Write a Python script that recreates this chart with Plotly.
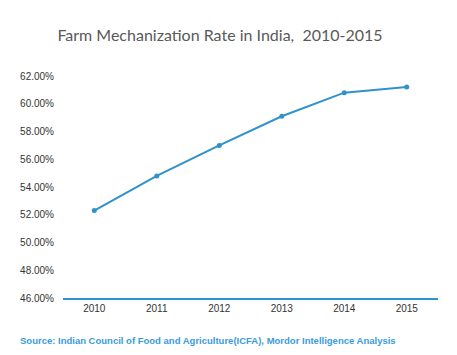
import plotly.graph_objects as go

years = ["2010", "2011", "2012", "2013", "2014", "2015"]
rates = [52.3, 54.8, 57.0, 59.1, 60.8, 61.2]
y_ticks = [46, 48, 50, 52, 54, 56, 58, 60, 62]
y_tick_labels = [f"{v:.2f}%" for v in y_ticks]

title_text = "Farm Mechanization Rate in India,\u00a0 2010-2015"
source_text = "Source: Indian Council of Food and Agriculture(ICFA), Mordor Intelligence Analysis"

line_color = "#3092CB"

# page body has an 8px margin, so figure coordinates are offset by 8px
OFF = 8
W, H = 457 - OFF, 355 - OFF
L, R, T, B = 57 - OFF, 19, 76 - OFF, 57
plot_w = W - L - R
plot_h = H - T - B


def px(x):
    return (x - OFF - L) / plot_w


fig = go.Figure()
fig.add_trace(go.Scatter(
    x=years, y=rates, mode="lines+markers",
    line=dict(color=line_color, width=2),
    marker=dict(color=line_color, size=5),
    hoverinfo="x+y",
))

fig.update_layout(
    width=W, height=H,
    margin=dict(l=L, r=R, t=T, b=B),
    paper_bgcolor="white", plot_bgcolor="white",
    showlegend=False,
    title=dict(text=title_text, x=(220 - OFF) / W, xanchor="center",
               y=1 - (35 - OFF) / H, yanchor="middle",
               font=dict(family="Lato", size=16, color="#595959")),
    xaxis=dict(type="category", range=[-0.5, 5.5], showgrid=False, zeroline=False,
               showline=True, linecolor=line_color, linewidth=1.5, ticks="",
               tickfont=dict(family="Liberation Sans", size=10, color="#333333")),
    yaxis=dict(range=[46, 62], tickvals=y_ticks, ticktext=y_tick_labels,
               showgrid=False, zeroline=False, showline=False, ticks="",
               ticklabelstandoff=8,
               tickfont=dict(family="Liberation Sans", size=10, color="#333333")),
    annotations=[dict(text="<b>" + source_text + "</b>", xref="paper", yref="paper",
                      x=px(11), xanchor="left",
                      y=(298 - 340) / plot_h, yanchor="middle",
                      showarrow=False,
                      font=dict(family="Liberation Sans", size=9.5, color="#3A9BDC"))],
)

fig.write_html("out.html")
